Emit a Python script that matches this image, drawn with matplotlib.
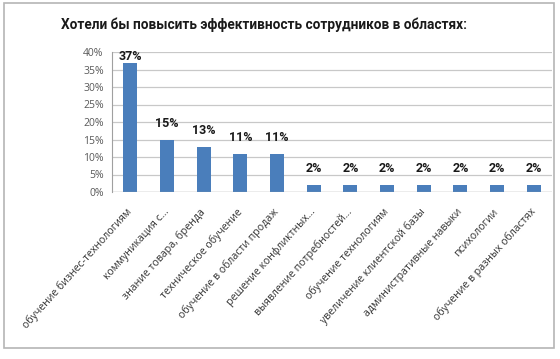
import matplotlib.pyplot as plt
from matplotlib.patches import Rectangle
from matplotlib.ticker import PercentFormatter

plt.rcParams['font.family'] = ['Open Sans', 'DejaVu Sans']

# data
categories = ["обучение бизнес-технологиям", "коммуникация с...", "знание товара, бренда",
              "техническое обучение", "обучение в области продаж", "решение конфликтных...",
              "выявление потребностей...", "обучение технологиям", "увеличение клиентской базы",
              "административные навыки", "психологии", "обучение в разных областях"]
values = [37, 15, 13, 11, 11, 2, 2, 2, 2, 2, 2, 2]
yticks = [0, 5, 10, 15, 20, 25, 30, 35, 40]

fig = plt.figure(figsize=(5.6, 3.59), dpi=100)
ax = fig.add_axes([112/560, 1 - 192/359, 440/560, 140/359])

x = range(len(categories))
ax.bar(x, values, width=0.38, color="#4a7ebb", zorder=3)

# value labels above bars (kept inside the plot area)
for i, v in enumerate(values):
    ax.text(i, min(v + 2.8, 37), f"{v}%", ha="center", va="bottom",
            fontsize=9, fontweight="bold", color="#1a1a1a",
            family=["Roboto", "DejaVu Sans"])

ax.set_xlim(-0.5, len(categories) - 0.5)
ax.set_ylim(0, 40)
ax.set_yticks(yticks)
ax.yaxis.set_major_formatter(PercentFormatter(decimals=0))
ax.grid(axis="y", color="#c8c8c8", linewidth=0.9, zorder=0)
ax.tick_params(axis="y", labelsize=7.5, colors="#595959", length=0, pad=6)
ax.tick_params(axis="x", length=0, pad=13)
ax.set_xticks(list(x))
ax.set_xticklabels(categories, rotation=48, ha="right", va="center",
                   rotation_mode="anchor", fontsize=7.6, color="#333333")
for s in ["top", "right", "bottom"]:
    ax.spines[s].set_visible(False)
ax.spines["left"].set_color("#a0a0a0")
ax.axhline(0, color="#a0a0a0", linewidth=0.9, zorder=4)

fig.text(264/560, 1 - 25/359, "Хотели бы повысить эффективность сотрудников в областях:",
         ha="center", va="center", fontsize=9.8, fontweight="bold", color="#1a1a1a",
         family=["Roboto", "DejaVu Sans"])

# outer frame of the chart
fig.patches.append(Rectangle((4/560, 1 - 348/359), 550/560, 345/359, transform=fig.transFigure,
                             fill=False, edgecolor="#b5b5b5", linewidth=1.2))

fig.savefig("out.png", dpi=100, facecolor="white")
